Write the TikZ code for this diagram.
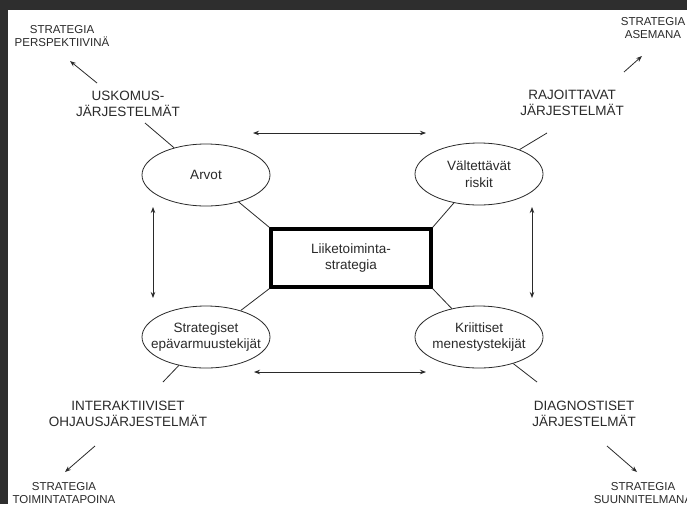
\documentclass[tikz,border=0pt]{standalone}
\usepackage{fontspec}
\setmainfont{Liberation Sans}
\usetikzlibrary{arrows.meta,shapes.geometric}
\definecolor{frame}{HTML}{2E2E2E}
\definecolor{ink}{HTML}{2A2A2A}
\tikzset{
  bigtxt/.style={align=center,font=\fontsize{13.5}{16}\selectfont,text=ink,inner sep=0pt},
  smalltxt/.style={align=center,font=\fontsize{11.5}{13.5}\selectfont,text=ink,inner sep=0pt},
  oval/.style={ellipse,draw=ink,line width=0.8pt,minimum width=128pt,minimum height=62pt,inner sep=0pt},
  ovaltxt/.style={align=center,font=\fontsize{13.5}{16.5}\selectfont,text=ink,inner sep=0pt},
  centerbox/.style={draw=black,line width=3.2pt,minimum width=160pt,minimum height=58pt,inner sep=0pt,align=center,font=\fontsize{13.5}{15.5}\selectfont,text=ink},
  conn/.style={draw=ink,line width=0.8pt},
  arr/.style={conn,-{Stealth[length=6pt,width=4.5pt]}},
  darr/.style={conn,{Stealth[length=6pt,width=4.5pt]}-{Stealth[length=6pt,width=4.5pt]}}
}
\begin{document}
\begin{tikzpicture}[x=1pt,y=-1pt]
\useasboundingbox (0,0) rectangle (687,504);
\fill[frame] (0,0) rectangle (687,504);
\fill[white] (8,10) rectangle (687,504);

% labels
\node[smalltxt] (persp) at (62,36) {STRATEGIA\\PERSPEKTIIVINÄ};
\node[bigtxt] (usk) at (128,104) {USKOMUS-\\JÄRJESTELMÄT};
\node[smalltxt] (asem) at (653,28) {STRATEGIA\\ASEMANA};
\node[bigtxt] (raj) at (572,103) {RAJOITTAVAT\\JÄRJESTELMÄT};
\node[bigtxt] (inter) at (128,414) {INTERAKTIIVISET\\OHJAUSJÄRJESTELMÄT};
\node[smalltxt] (toim) at (64,493) {STRATEGIA\\TOIMINTATAPOINA};
\node[bigtxt] (diag) at (584,414) {DIAGNOSTISET\\JÄRJESTELMÄT};
\node[smalltxt] (suun) at (643,493) {STRATEGIA\\SUUNNITELMANA};

% ellipses and box
\node[oval] (arvot) at (206,175) {};
\node[ovaltxt] (arvotT) at (arvot) {Arvot};
\node[oval] (valt) at (479,174) {};
\node[ovaltxt] (valtT) at (valt) {Vältettävät\\riskit};
\node[oval] (strat) at (206,337) {};
\node[ovaltxt] (stratT) at (strat) {Strategiset\\epävarmuustekijät};
\node[oval] (krit) at (479,337) {};
\node[ovaltxt] (kritT) at (krit) {Kriittiset\\menestystekijät};
\node[centerbox] (liik) at (351,258) {Liiketoiminta-\\strategia};

% connector end points
\coordinate (c1) at (145,123);
\coordinate (c2) at (547,133);
\coordinate (c3) at (163,382);
\coordinate (c4) at (537,382);
\coordinate (a1s) at (97,83);  \coordinate (a1e) at (70,61);
\coordinate (a2s) at (624,72); \coordinate (a2e) at (642,56);
\coordinate (a3s) at (95,446); \coordinate (a3e) at (65,472);
\coordinate (a4s) at (607,446);\coordinate (a4e) at (637,472);
\coordinate (h1a) at (253,133); \coordinate (h1b) at (426,133);
\coordinate (h2a) at (254,372); \coordinate (h2b) at (426,372);
\coordinate (v1a) at (153,207); \coordinate (v1b) at (153,298);
\coordinate (v2a) at (532,207); \coordinate (v2b) at (532,298);

% box to ellipses
\draw[conn] (liik.north west) -- (arvot);
\draw[conn] (liik.north east) -- (valt);
\draw[conn] (liik.south west) -- (strat);
\draw[conn] (liik.south east) -- (krit);

% ellipses to outer labels
\draw[conn] (arvot) -- (c1);
\draw[conn] (valt) -- (c2);
\draw[conn] (strat) -- (c3);
\draw[conn] (krit) -- (c4);

% strategy arrows
\draw[arr] (a1s) -- (a1e);
\draw[arr] (a2s) -- (a2e);
\draw[arr] (a3s) -- (a3e);
\draw[arr] (a4s) -- (a4e);

% double arrows
\draw[darr] (h1a) -- (h1b);
\draw[darr] (h2a) -- (h2b);
\draw[darr] (v1a) -- (v1b);
\draw[darr] (v2a) -- (v2b);
\end{tikzpicture}
\end{document}
